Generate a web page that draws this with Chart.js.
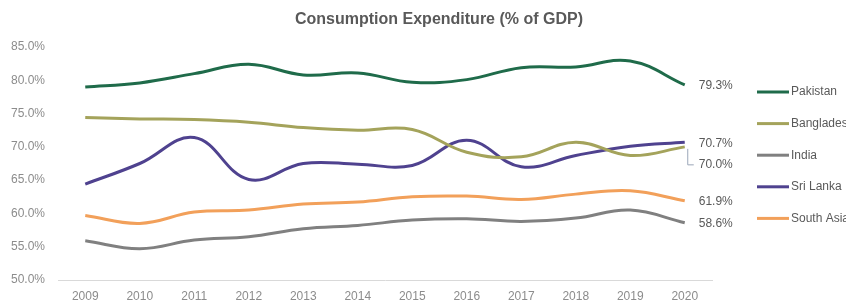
<!DOCTYPE html>
<html>
<head>
<meta charset="utf-8">
<script src="https://cdn.jsdelivr.net/npm/chart.js@4/dist/chart.umd.min.js"></script>
<style>
  html, body { margin: 0; padding: 0; background: #fff; overflow: hidden; }
  canvas { display: block; }
</style>
</head>
<body>
<canvas id="chart" width="846" height="305"></canvas>
<script>
// Data
const years = ['2009', '2010', '2011', '2012', '2013', '2014', '2015', '2016', '2017', '2018', '2019', '2020'];
const pakistan = [79.0, 79.6, 81.0, 82.4, 80.8, 81.1, 79.7, 80.1, 81.9, 82.0, 82.9, 79.3];
const bangladesh = [74.4, 74.2, 74.1, 73.7, 72.9, 72.5, 72.6, 69.2, 68.5, 70.7, 68.7, 70.0];
const india = [55.9, 54.7, 56.0, 56.5, 57.7, 58.2, 59.0, 59.2, 58.8, 59.3, 60.5, 58.6];
const sriLanka = [64.4, 67.5, 71.4, 65.1, 67.5, 67.4, 67.2, 71.0, 67.0, 68.7, 70.1, 70.7];
const southAsia = [59.7, 58.5, 60.2, 60.5, 61.4, 61.7, 62.5, 62.6, 62.1, 62.9, 63.4, 61.9];
const yTicks = [50, 55, 60, 65, 70, 75, 80, 85];

const FONT = "'Liberation Sans', Arial, sans-serif";
const TEXT_GREY = '#595959';
const AXIS_GREY = '#8c8c8c';

const series = [
    { label: 'Pakistan', data: pakistan, color: '#1f6b4a' },
    { label: 'Bangladesh', data: bangladesh, color: '#a4a35b' },
    { label: 'India', data: india, color: '#808080' },
    { label: 'Sri Lanka', data: sriLanka, color: '#4f428f' },
    { label: 'South Asia', data: southAsia, color: '#f2a05a' }
];

// Title drawn over the whole canvas
const titlePlugin = {
    id: 'titleText',
    afterDraw(chart) {
        const ctx = chart.ctx;
        ctx.save();
        ctx.font = `bold 16px ${FONT}`;
        ctx.fillStyle = TEXT_GREY;
        ctx.textAlign = 'center';
        ctx.textBaseline = 'middle';
        ctx.fillText('Consumption Expenditure (% of GDP)', 439, 20);
        ctx.restore();
    }
};

// Value labels at the end of each line (Bangladesh pushed down with a leader)
const endLabels = {
    id: 'endLabels',
    afterDatasetsDraw(chart) {
        const ctx = chart.ctx;
        ctx.save();
        ctx.font = `12px ${FONT}`;
        ctx.fillStyle = TEXT_GREY;
        ctx.textAlign = 'left';
        ctx.textBaseline = 'middle';
        chart.data.datasets.forEach((ds, i) => {
            const meta = chart.getDatasetMeta(i);
            const last = meta.data.length - 1;
            const pt = meta.data[last];
            const text = ds.data[last].toFixed(1) + '%';
            if (ds.label === 'Bangladesh') {
                const dy = 18;
                ctx.strokeStyle = '#9aa6b8';
                ctx.lineWidth = 1;
                ctx.beginPath();
                ctx.moveTo(pt.x + 3, pt.y + 2);
                ctx.lineTo(pt.x + 3, pt.y + dy);
                ctx.lineTo(pt.x + 9, pt.y + dy);
                ctx.stroke();
                ctx.fillText(text, pt.x + 14, pt.y + dy);
            } else {
                ctx.fillText(text, pt.x + 14, pt.y + 1);
            }
        });
        ctx.restore();
    }
};

// Legend on the right, runs off the canvas edge like the reference
const sideLegend = {
    id: 'sideLegend',
    afterDraw(chart) {
        const ctx = chart.ctx;
        ctx.save();
        ctx.font = `12px ${FONT}`;
        ctx.fillStyle = TEXT_GREY;
        ctx.textBaseline = 'middle';
        chart.data.datasets.forEach((ds, i) => {
            const y = 92 + i * 31.6;
            ctx.strokeStyle = ds.borderColor;
            ctx.lineWidth = 3;
            ctx.beginPath();
            ctx.moveTo(757, y);
            ctx.lineTo(789, y);
            ctx.stroke();
            ctx.fillText(ds.label, 791, y);
        });
        ctx.restore();
    }
};

new Chart(document.getElementById('chart'), {
    type: 'line',
    data: {
        labels: years,
        datasets: series.map(s => ({
            label: s.label,
            data: s.data,
            borderColor: s.color,
            backgroundColor: s.color,
            borderWidth: 3,
            pointRadius: 0,
            tension: 0.4,
            fill: false
        }))
    },
    options: {
        responsive: false,
        animation: false,
        layout: { padding: { top: 47, right: 134, bottom: 0, left: 8 } },
        plugins: {
            legend: { display: false },
            title: { display: false },
            tooltip: { enabled: false }
        },
        scales: {
            x: {
                offset: true,
                grid: { display: false, drawTicks: false },
                border: { display: true, color: '#d9d9d9', width: 1 },
                ticks: { color: AXIS_GREY, font: { family: FONT, size: 12 }, padding: 9 },
                afterFit: scale => { scale.height = 25; }
            },
            y: {
                min: yTicks[0],
                max: yTicks[yTicks.length - 1],
                afterBuildTicks: scale => { scale.ticks = yTicks.map(v => ({ value: v })); },
                grid: { display: false, drawTicks: false },
                border: { display: false },
                ticks: {
                    color: AXIS_GREY,
                    font: { family: FONT, size: 12 },
                    padding: 13,
                    callback: v => v.toFixed(1) + '%'
                },
                afterFit: scale => { scale.width = 50; }
            }
        }
    },
    plugins: [titlePlugin, endLabels, sideLegend]
});
</script>
</body>
</html>
